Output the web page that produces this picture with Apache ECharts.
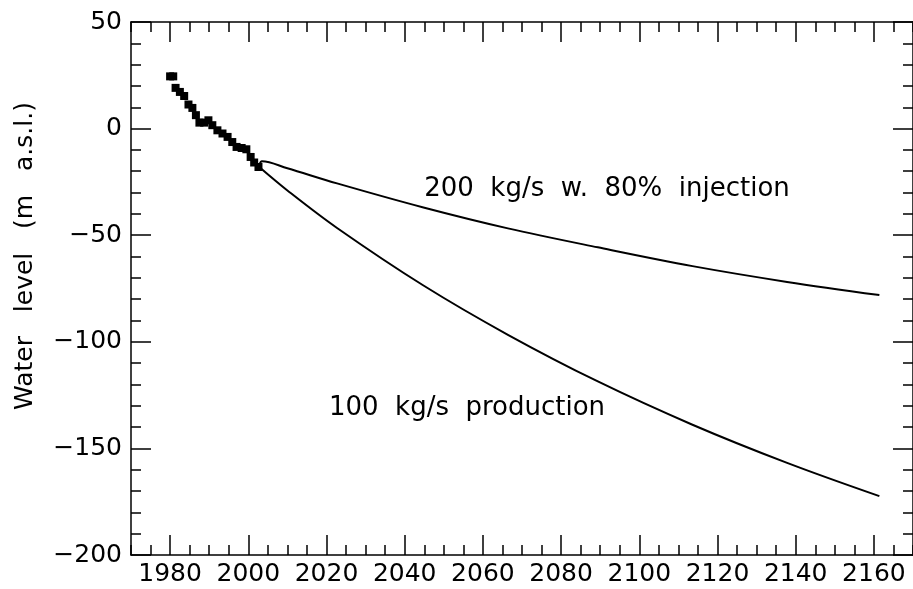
<!DOCTYPE html>
<html><head><meta charset="utf-8">
<script src="https://cdn.jsdelivr.net/npm/echarts@6/dist/echarts.min.js"></script>
<style>html,body{margin:0;padding:0;background:#fff}#c{width:913px;height:589px}</style>
</head><body><div id="c"></div>
<script>
// ---- data ----
const obsYears  = [1980.0, 1980.8, 1981.4, 1982.5, 1983.6, 1984.7, 1985.7, 1986.6, 1987.5, 1988.7, 1989.8, 1990.8, 1992.1, 1993.4, 1994.7, 1995.9, 1997.0, 1998.3, 1999.5, 2000.6, 2001.5, 2002.6];
const obsLevels = [24.5, 24.5, 19.1, 17.2, 15.3, 11.3, 9.7, 6.3, 2.8, 2.8, 3.9, 1.6, -0.8, -2.3, -3.9, -6.3, -8.6, -9.1, -9.7, -13.3, -15.9, -18.0];
const injYears  = [2002.8, 2003.5, 2010, 2022.7, 2044.8, 2066.4, 2089.4, 2113.6, 2137.8, 2161.4];
const injLevels = [-17.0, -15.3, -18.6, -25.7, -37.0, -46.8, -55.7, -64.5, -71.9, -78.1];
const prodYears  = [2002.8, 2010, 2022.7, 2044.8, 2066.4, 2089.4, 2113.6, 2137.8, 2161.4];
const prodLevels = [-18.0, -29.0, -46.6, -73.6, -96.7, -118.6, -138.9, -156.8, -172.4];
const xLabelValues = [1980, 2000, 2020, 2040, 2060, 2080, 2100, 2120, 2140, 2160];
const yAxisTitle = 'Water   level   (m   a.s.l.)';
const labelInj = '200  kg/s  w.  80%  injection';
const labelProd = '100  kg/s  production';

const FONT = 'DejaVu Sans';
const ink = '#000';
const lineStyle = {color: ink, width: 1.5};
const pair = (xs, ys) => xs.map((x, i) => [x, ys[i]]);

function xAx(pos, major) {
  return {
    type: 'value', position: pos, min: 1970, max: 2170,
    interval: major ? undefined : 5,
    axisLine: {show: !major, onZero: false, lineStyle},
    axisTick: major ? {show: true, inside: true, length: 20, customValues: xLabelValues, lineStyle}
                    : {show: true, inside: true, length: 10, lineStyle},
    axisLabel: (pos === 'bottom' && !major) ? {customValues: xLabelValues, margin: 7, color: ink, fontSize: 25, fontFamily: FONT,
      formatter: v => String(v)} : {show: false},
    splitLine: {show: false}
  };
}
function yAx(pos) {
  return {
    type: 'value', position: pos, min: -200, max: 50, interval: 50,
    axisLine: {show: true, onZero: false, lineStyle},
    axisTick: {show: true, inside: true, length: 20, lineStyle},
    minorTick: {show: true, splitNumber: 5, length: 10, lineStyle},
    axisLabel: pos === 'left' ? {margin: 9, color: ink, fontSize: 25, fontFamily: FONT,
      formatter: v => String(v).replace('-', '\u2212')} : {show: false},
    splitLine: {show: false}, minorSplitLine: {show: false}
  };
}

const chart = echarts.init(document.getElementById('c'), null, {renderer: 'canvas'});
chart.setOption({
  animation: false,
  backgroundColor: '#fff',
  grid: {left: 131, top: 22, right: -5, bottom: 34},
  xAxis: [xAx('bottom', false), xAx('bottom', true), xAx('top', false), xAx('top', true)],
  yAxis: [yAx('left'), yAx('right')],
  series: [
    {type: 'scatter', data: pair(obsYears, obsLevels), symbol: 'rect', symbolSize: 8,
     itemStyle: {color: ink, opacity: 1}, z: 3},
    {type: 'line', data: pair(injYears, injLevels), showSymbol: false, smooth: 0.35,
     lineStyle: {color: ink, width: 2}},
    {type: 'line', data: pair(prodYears, prodLevels), showSymbol: false, smooth: 0.35,
     lineStyle: {color: ink, width: 2}}
  ],
  graphic: [
    {type: 'text', x: 25, y: 256, rotation: Math.PI / 2,
     style: {text: yAxisTitle, fill: ink, font: '25px "DejaVu Sans"', align: 'center', verticalAlign: 'middle'}},
    {type: 'text', x: 607, y: 189,
     style: {text: labelInj, fill: ink, font: '26px "DejaVu Sans"', align: 'center', verticalAlign: 'middle'}},
    {type: 'text', x: 467, y: 408,
     style: {text: labelProd, fill: ink, font: '26px "DejaVu Sans"', align: 'center', verticalAlign: 'middle'}}
  ]
});
</script></body></html>
